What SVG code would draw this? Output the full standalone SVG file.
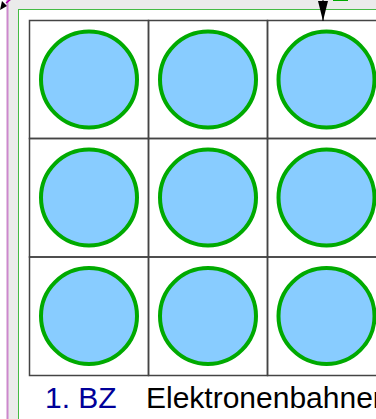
<svg xmlns="http://www.w3.org/2000/svg" width="376" height="419" viewBox="0 0 376 419">
<style>
.cell{fill:none;stroke:#444;stroke-width:1.5}
.c{fill:#88ccff;stroke:#00aa00;stroke-width:4}
.t{font-family:"Liberation Sans",Arial,sans-serif;font-size:30px}
</style>
<defs>
<marker id="ah" viewBox="0 0 20 10" refX="20" refY="5" markerWidth="20" markerHeight="10" markerUnits="userSpaceOnUse" orient="auto"><path d="M0,0 L20,5 L0,10 z" fill="#000"/></marker>
</defs>
<rect x="0" y="0" width="376" height="419" fill="#fff"/>
<rect x="7" y="0" width="369" height="419" fill="#ebebeb"/>
<line x1="7.5" y1="0" x2="7.5" y2="419" stroke="#cc88cc" stroke-width="2"/>
<rect x="18.5" y="9.5" width="370" height="420" fill="#fff" stroke="#44bb44" stroke-width="1"/>
<rect x="333" y="-2" width="15" height="3" fill="#00aa00"/>
<g id="grid">
<rect class="cell" x="29.5" y="20.5" width="119" height="118"/>
<rect class="cell" x="148.5" y="20.5" width="119" height="118"/>
<rect class="cell" x="267.5" y="20.5" width="119" height="118"/>
<rect class="cell" x="29.5" y="138.5" width="119" height="118.5"/>
<rect class="cell" x="148.5" y="138.5" width="119" height="118.5"/>
<rect class="cell" x="267.5" y="138.5" width="119" height="118.5"/>
<rect class="cell" x="29.5" y="257" width="119" height="118.5"/>
<rect class="cell" x="148.5" y="257" width="119" height="118.5"/>
<rect class="cell" x="267.5" y="257" width="119" height="118.5"/>
</g>
<g id="n11"><circle class="c" cx="89" cy="79.5" r="48"/></g>
<g id="n12"><circle class="c" cx="208" cy="79.5" r="48"/></g>
<g id="n13"><circle class="c" cx="326.5" cy="79.5" r="48"/></g>
<g id="n21"><circle class="c" cx="89" cy="197.5" r="48"/></g>
<g id="n22"><circle class="c" cx="208" cy="197.5" r="48"/></g>
<g id="n23"><circle class="c" cx="326.5" cy="197.5" r="48"/></g>
<g id="n31"><circle class="c" cx="89" cy="316" r="48"/></g>
<g id="n32"><circle class="c" cx="208" cy="316" r="48"/></g>
<g id="n33"><circle class="c" cx="326.5" cy="316" r="48"/></g>
<g id="connectors">
<line x1="323" y1="-10" x2="323" y2="21" stroke="#000" stroke-width="1" marker-end="url(#ah)"/>
<line x1="11" y1="-1" x2="6" y2="3" stroke="#aa00aa" stroke-width="1.5"/>
<path d="M0,10 L2,1 L7,6 z" fill="#000"/>
</g>
<g id="label">
<text class="t" x="45" y="408" fill="#000099">1. BZ</text>
<text class="t" x="146" y="408" fill="#000">Elektronenbahnen</text>
</g>
</svg>
